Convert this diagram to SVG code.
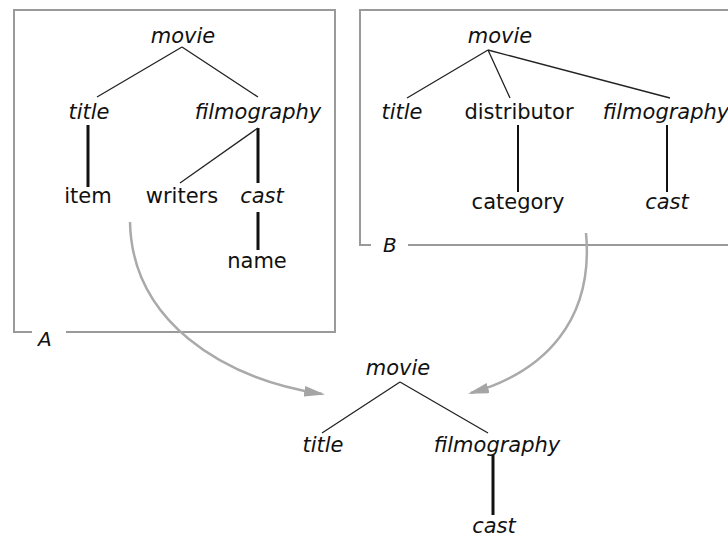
<svg xmlns="http://www.w3.org/2000/svg" width="728" height="538" viewBox="0 0 728 538">
<defs>
<style>
text{font-family:"DejaVu Sans","Liberation Sans",sans-serif;font-size:21px;fill:#111;text-anchor:middle}
.i{font-style:italic}
.frame{fill:none;stroke:#9a9a9a;stroke-width:2}
.thin{stroke:#222;stroke-width:1.3;fill:none}
.thick{stroke:#111;stroke-width:3;fill:none}
.mid{stroke:#111;stroke-width:2;fill:none}
.arrow{stroke:#aaa;stroke-width:2.5;fill:none;marker-end:url(#ah)}
.lbl{text-anchor:start;font-size:20px}
</style>
<marker id="ah" viewBox="0 0 20 10" refX="17" refY="5" markerWidth="8.4" markerHeight="4.2" markerUnits="strokeWidth" orient="auto">
<path d="M0,0 L20,5 L0,10 z" fill="#a5a5a5"/>
</marker>
</defs>
<rect width="728" height="538" fill="#fff"/>

<g id="frameA">
<path class="frame" d="M32,332 H14 V10 H335 V332 H66"/>
<text class="i lbl" x="38" y="346">A</text>
</g>
<g id="frameB">
<path class="frame" d="M371,245 H360 V10 H730 M408,245 H730"/>
<text class="i lbl" x="383" y="252">B</text>
</g>

<g id="connectors">
<path class="thin" d="M182,47 L97,97 M182,47 L258,97"/>
<path class="thick" d="M88,125 V187 M258,128 V183 M258,212 V250"/>
<path class="thin" d="M258,128 L180,183"/>
<path class="thin" d="M488,50 L407,98 M488,50 L510,98 M488,50 L670,98"/>
<path class="mid" d="M518,125 V192 M667,125 V192"/>
<path class="thin" d="M400,382 L322,433 M400,382 L488,433"/>
<path class="thick" d="M493,455 V515"/>
<path class="arrow" d="M130,222 C132,320 220,378 322,394"/>
<path class="arrow" d="M586,233 C594,320 545,372 471,393"/>
</g>

<g id="A-movie"><text class="i" x="183" y="43">movie</text></g>
<g id="A-title"><text class="i" x="89" y="119">title</text></g>
<g id="A-filmography"><text class="i" x="258" y="119">filmography</text></g>
<g id="A-item"><text x="88" y="203">item</text></g>
<g id="A-writers"><text x="182" y="203">writers</text></g>
<g id="A-cast"><text class="i" x="262" y="203">cast</text></g>
<g id="A-name"><text x="257" y="268">name</text></g>

<g id="B-movie"><text class="i" x="500" y="43">movie</text></g>
<g id="B-title"><text class="i" x="402" y="119">title</text></g>
<g id="B-distributor"><text x="519" y="119">distributor</text></g>
<g id="B-filmography"><text class="i" x="666" y="119">filmography</text></g>
<g id="B-category"><text x="518" y="209">category</text></g>
<g id="B-cast"><text class="i" x="667" y="209">cast</text></g>

<g id="C-movie"><text class="i" x="398" y="375">movie</text></g>
<g id="C-title"><text class="i" x="323" y="452">title</text></g>
<g id="C-filmography"><text class="i" x="497" y="452">filmography</text></g>
<g id="C-cast"><text class="i" x="494" y="533">cast</text></g>
</svg>
